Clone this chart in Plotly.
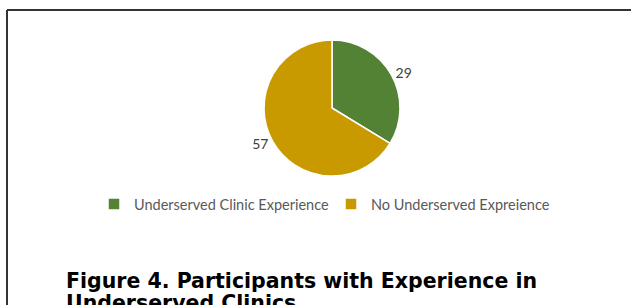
import plotly.graph_objects as go

categories = ["Underserved Clinic Experience", "No Underserved Expreience"]
values = [29, 57]
colors = ["#548235", "#C99A00"]
title_lines = ["Figure 4. Participants with Experience in", "Underserved Clinics"]

W, H = 631, 305

fig = go.Figure()
fig.add_trace(go.Pie(
    labels=categories,
    values=values,
    sort=False,
    direction="clockwise",
    rotation=0,
    marker=dict(colors=colors, line=dict(color="white", width=1.5)),
    textinfo="value",
    textposition="outside",
    textfont=dict(family="Lato", size=14, color="#404040"),
    domain=dict(x=[(332 - 68) / W, (332 + 68) / W], y=[1 - 176 / H, 1 - 40 / H]),
    showlegend=True,
    hoverinfo="label+value",
))

annotations = []
for i, line in enumerate(title_lines):
    annotations.append(dict(
        text="<b>" + line + "</b>", xref="paper", yref="paper",
        x=64 / W, y=1 - (267 + 22 * i) / H, xanchor="left", yanchor="top",
        align="left", showarrow=False,
        font=dict(family="DejaVu Sans", size=20.5, color="black")))

fig.update_layout(
    width=W, height=H,
    margin=dict(l=0, r=0, t=0, b=0),
    paper_bgcolor="white",
    plot_bgcolor="white",
    legend=dict(
        orientation="h",
        x=94 / W, xanchor="left",
        y=1 - 188 / H, yanchor="top",
        font=dict(family="Lato", size=14.5, color="#595959"),
        itemwidth=30,
        traceorder="normal",
        entrywidth=192,
    ),
    shapes=[
        dict(type="line", xref="paper", yref="paper",
             x0=7 / W, x1=1.01, y0=1 - 10 / H, y1=1 - 10 / H,
             line=dict(color="#333333", width=2)),
        dict(type="line", xref="paper", yref="paper",
             x0=7 / W, x1=7 / W, y0=1 - 10 / H, y1=-0.02,
             line=dict(color="#333333", width=2)),
    ],
    annotations=annotations,
)

fig.write_html("out.html", config={"displayModeBar": False},
               post_script="document.body.style.margin='0';document.body.style.overflow='hidden';")
